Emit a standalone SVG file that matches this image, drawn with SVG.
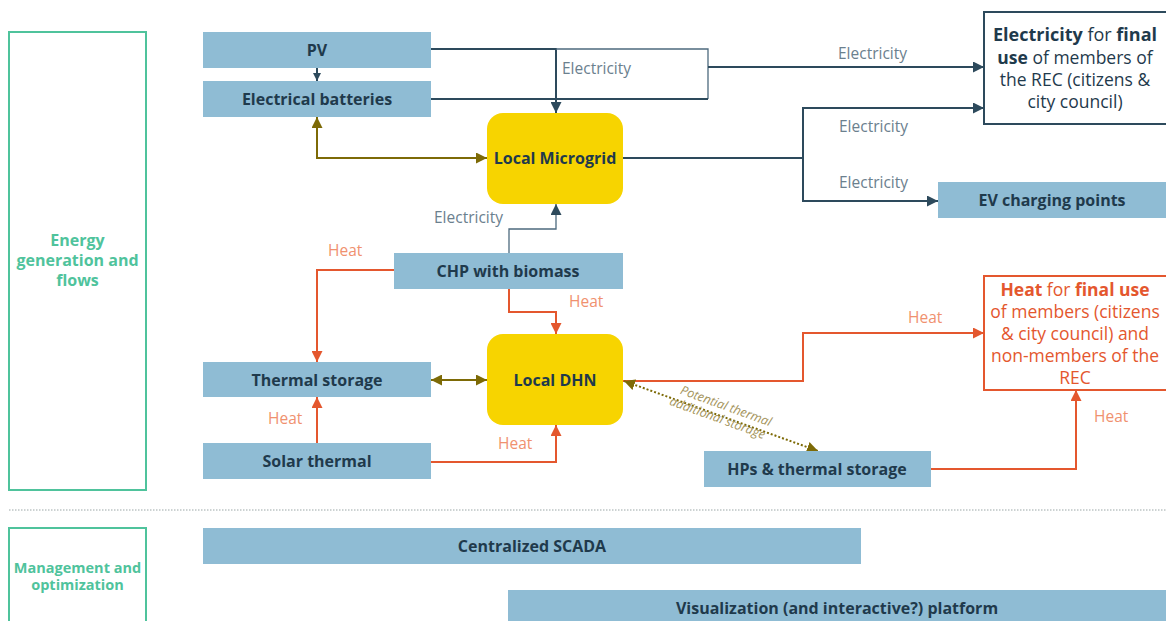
<svg xmlns="http://www.w3.org/2000/svg" width="1166" height="621" viewBox="0 0 1166 621">
<defs>
<style>
.box{fill:#8fbcd4}
.hub{fill:#f7d400}
.lbl{font-family:"Open Sans","DejaVu Sans",sans-serif;font-weight:bold;font-size:16px;fill:#1f3a4c;text-anchor:middle}
.sec{fill:none;stroke:#4fc39c;stroke-width:2}
.sect{font-family:"Open Sans","DejaVu Sans",sans-serif;font-weight:bold;fill:#4fc39c;text-anchor:middle}
.el{fill:none;stroke:#2d4a5c;stroke-width:2}
.elt{fill:none;stroke:#4d6a7e;stroke-width:1.3}
.ht{fill:none;stroke:#e4572e;stroke-width:2}
.ol{fill:none;stroke:#7d6a06;stroke-width:2}
.elab{font-family:"Open Sans","DejaVu Sans",sans-serif;font-size:15.5px;fill:#6b808e}
.hlab{font-family:"Open Sans","DejaVu Sans",sans-serif;font-size:15.5px;fill:#f0916f}
.big{font-family:"Open Sans","DejaVu Sans",sans-serif;font-size:17.5px;text-anchor:middle}
</style>
<marker id="ae" viewBox="0 0 10 10" refX="10" refY="5" markerWidth="11" markerHeight="11" markerUnits="userSpaceOnUse" orient="auto-start-reverse"><path d="M0,0L10,5L0,10z" fill="#2d4a5c"/></marker>
<marker id="aes" viewBox="0 0 10 10" refX="10" refY="5" markerWidth="8" markerHeight="8" markerUnits="userSpaceOnUse" orient="auto-start-reverse"><path d="M0,0L10,5L0,10z" fill="#2d4a5c"/></marker>
<marker id="ah" viewBox="0 0 10 10" refX="10" refY="5" markerWidth="11" markerHeight="11" markerUnits="userSpaceOnUse" orient="auto-start-reverse"><path d="M0,0L10,5L0,10z" fill="#e4572e"/></marker>
<marker id="ao" viewBox="0 0 10 10" refX="10" refY="5" markerWidth="11" markerHeight="11" markerUnits="userSpaceOnUse" orient="auto-start-reverse"><path d="M0,0L10,5L0,10z" fill="#7d6a06"/></marker>
</defs>
<rect width="1166" height="621" fill="#ffffff"/>

<g id="sections">
<rect class="sec" x="9" y="32" width="137" height="458"/>
<text class="sect" font-size="16"><tspan x="77.5" y="246">Energy</tspan><tspan x="77.5" y="266">generation and</tspan><tspan x="77.5" y="286">flows</tspan></text>
<line x1="9" y1="510" x2="1166" y2="510" stroke="#9aa6a6" stroke-width="1" stroke-dasharray="1.5,1.5"/>
<rect class="sec" x="9" y="528" width="137" height="100"/>
<text class="sect" font-size="14.5"><tspan x="77.5" y="573">Management and</tspan><tspan x="77.5" y="590">optimization</tspan></text>
</g>

<g id="connectors">
<path class="el" d="M317,68V81" marker-end="url(#aes)"/>
<path class="el" d="M431,49H556V113" marker-end="url(#ae)"/>
<path class="elt" d="M556,49H708V99"/>
<path class="el" d="M431,99H708"/>
<path class="el" d="M708,67H984" marker-end="url(#ae)"/>
<path class="ol" d="M317,117V158H487" marker-start="url(#ao)" marker-end="url(#ao)"/>
<path class="el" d="M623,158H803"/>
<path class="el" d="M803,158V108H984" marker-end="url(#ae)"/>
<path class="el" d="M803,158V201H938" marker-end="url(#ae)"/>
<path class="elt" d="M509,253V229H556V204" marker-end="url(#ae)"/>
<path class="ht" d="M394,270H317V362" marker-end="url(#ah)"/>
<path class="ht" stroke-width="1.5" d="M509,289V312H556V334" marker-end="url(#ah)"/>
<path class="ht" d="M317,443V397" marker-end="url(#ah)"/>
<path class="ol" d="M431,380H487" marker-start="url(#ao)" marker-end="url(#ao)"/>
<path class="ht" d="M431,462H556V425" marker-end="url(#ah)"/>
<path class="ht" d="M623,381H803V333H984" marker-end="url(#ah)"/>
<path class="ol" stroke-dasharray="2,2" d="M624,381L818,451" marker-start="url(#ao)" marker-end="url(#ao)"/>
<path class="ht" d="M931,469H1076V390" marker-end="url(#ah)"/>
<text class="elab" x="562" y="74">Electricity</text>
<text class="elab" x="838" y="59">Electricity</text>
<text class="elab" x="839" y="132">Electricity</text>
<text class="elab" x="839" y="188">Electricity</text>
<text class="elab" x="434" y="223">Electricity</text>
<text class="hlab" x="328" y="256">Heat</text>
<text class="hlab" x="569" y="307">Heat</text>
<text class="hlab" x="268" y="424">Heat</text>
<text class="hlab" x="498" y="449">Heat</text>
<text class="hlab" x="908" y="323">Heat</text>
<text class="hlab" x="1094" y="422">Heat</text>
<text transform="translate(721,414) rotate(20)" font-family="'Open Sans','DejaVu Sans',sans-serif" font-size="12.5" font-style="italic" fill="#a3935a" text-anchor="middle"><tspan x="2" y="-5">Potential thermal</tspan><tspan x="-2" y="9">additional storage</tspan></text>
</g>

<g id="pv"><rect class="box" x="203" y="32" width="228" height="36"/><text class="lbl" x="317" y="55.5">PV</text></g>
<g id="batteries"><rect class="box" x="203" y="81" width="228" height="36"/><text class="lbl" x="317" y="104.5">Electrical batteries</text></g>
<g id="microgrid"><rect class="hub" x="487" y="113" width="136" height="91" rx="16"/><text class="lbl" x="555" y="164">Local Microgrid</text></g>
<g id="chp"><rect class="box" x="394" y="253" width="229" height="36"/><text class="lbl" x="508" y="276.5">CHP with biomass</text></g>
<g id="dhn"><rect class="hub" x="487" y="334" width="136" height="91" rx="16"/><text class="lbl" x="555" y="386">Local DHN</text></g>
<g id="thermal-storage"><rect class="box" x="203" y="362" width="228" height="35"/><text class="lbl" x="317" y="385.5">Thermal storage</text></g>
<g id="solar-thermal"><rect class="box" x="203" y="443" width="228" height="36"/><text class="lbl" x="317" y="466.5">Solar thermal</text></g>
<g id="hps"><rect class="box" x="704" y="451" width="227" height="36"/><text class="lbl" x="817" y="474.5">HPs &amp; thermal storage</text></g>
<g id="ev"><rect class="box" x="938" y="182" width="230" height="36"/><text class="lbl" x="1052" y="205.5">EV charging points</text></g>
<g id="elec-final">
<rect x="984" y="12" width="190" height="112" fill="#ffffff" stroke="#2d4a5c" stroke-width="2"/>
<text class="big" fill="#1f3a4c"><tspan x="1075" y="41" font-size="18"><tspan font-weight="bold">Electricity</tspan> for <tspan font-weight="bold">final</tspan></tspan><tspan x="1075" y="64"><tspan font-weight="bold">use</tspan> of members of</tspan><tspan x="1075" y="86">the REC (citizens &amp;</tspan><tspan x="1075" y="108">city council)</tspan></text>
</g>
<g id="heat-final">
<rect x="984" y="276" width="190" height="114" fill="#ffffff" stroke="#e4572e" stroke-width="2"/>
<text class="big" fill="#e4572e"><tspan x="1075" y="296"><tspan font-weight="bold">Heat</tspan> for <tspan font-weight="bold">final use</tspan></tspan><tspan x="1075" y="318">of members (citizens</tspan><tspan x="1075" y="340">&amp; city council) and</tspan><tspan x="1075" y="362">non-members of the</tspan><tspan x="1075" y="384">REC</tspan></text>
</g>
<g id="scada"><rect class="box" x="203" y="528" width="658" height="36"/><text class="lbl" x="532" y="551.5">Centralized SCADA</text></g>
<g id="platform"><rect class="box" x="508" y="590" width="660" height="40"/><text class="lbl" x="837" y="613.5">Visualization (and interactive?) platform</text></g>
</svg>
